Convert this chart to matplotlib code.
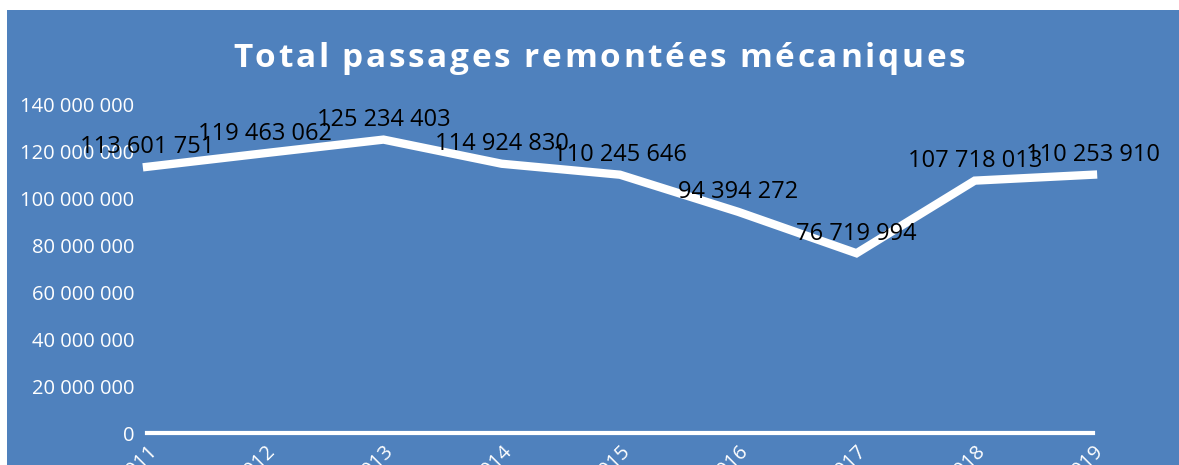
import numpy as np
import matplotlib
matplotlib.use('Agg')
import matplotlib.pyplot as plt
from matplotlib.patches import Rectangle
from matplotlib.ticker import FuncFormatter
from matplotlib.font_manager import FontProperties

# Data
years = ['2011', '2012', '2013', '2014', '2015', '2016', '2017', '2018', '2019']
passages = [113601751, 119463062, 125234403, 114924830, 110245646,
            94394272, 76719994, 107718013, 110253910]
title = 'Total passages remontées mécaniques'

bg = '#4F81BD'
W, H = 1179, 465

fig = plt.figure(figsize=(W / 100, H / 100), dpi=100, facecolor='white')
# blue chart area (small white margin top and left)
fig.patches.append(Rectangle((7 / W, 0), 1 - 7 / W, 1 - 10 / H, transform=fig.transFigure,
                             facecolor=bg, edgecolor='none', zorder=-5))

ax = fig.add_axes([147 / W, 32 / H, (1093 - 147) / W, (433 - 105) / H])
ax.set_facecolor('none')
ax.set_zorder(2)

x = np.arange(len(years))
ax.plot(x, passages, color='white', lw=6, solid_joinstyle='miter', zorder=3, clip_on=False)

for xi, v in zip(x, passages):
    lbl = f'{v:,}'.replace(',', ' ')
    ax.annotate(lbl, (xi, v), xytext=(0, 14), textcoords='offset points',
                ha='center', va='center', fontsize=17, color='black',
                family='Open Sans', zorder=4)

ax.set_xlim(0, len(years) - 1)
ax.set_ylim(0, 140000000)
ax.set_yticks(np.arange(0, 140000001, 20000000))
ax.yaxis.set_major_formatter(FuncFormatter(lambda v, p: f'{int(v):,}'.replace(',', ' ')))
ax.set_xticks(x)
ax.set_xticklabels(years, rotation=45, ha='right', va='top', rotation_mode='anchor')

for s in ['top', 'right', 'left']:
    ax.spines[s].set_visible(False)
ax.spines['bottom'].set_color('white')
ax.spines['bottom'].set_linewidth(3)
ax.tick_params(axis='both', length=0, colors='white', labelsize=14.5)
ax.tick_params(axis='y', pad=9)
ax.tick_params(axis='x', pad=6)
for t in ax.get_xticklabels() + ax.get_yticklabels():
    t.set_family('Open Sans')

# letter-spaced title
renderer = fig.canvas.get_renderer()
fp = FontProperties(family='Open Sans', weight='bold', size=24)
widths = []
for ch in title:
    if ch == ' ':
        w = renderer.get_text_width_height_descent('n', fp, ismath=False)[0] * 0.35
    else:
        w = renderer.get_text_width_height_descent(ch, fp, ismath=False)[0]
    widths.append(w)
target = 965 - 233
gap = (target - sum(widths)) / (len(title) - 1)
xpos = 599 - target / 2
for ch, w in zip(title, widths):
    if ch != ' ':
        fig.text(xpos / W, 1 - 67 / H, ch, fontproperties=fp, color='white',
                 ha='left', va='baseline')
    xpos += w + gap

fig.savefig('out.png', dpi=100, facecolor='white')
